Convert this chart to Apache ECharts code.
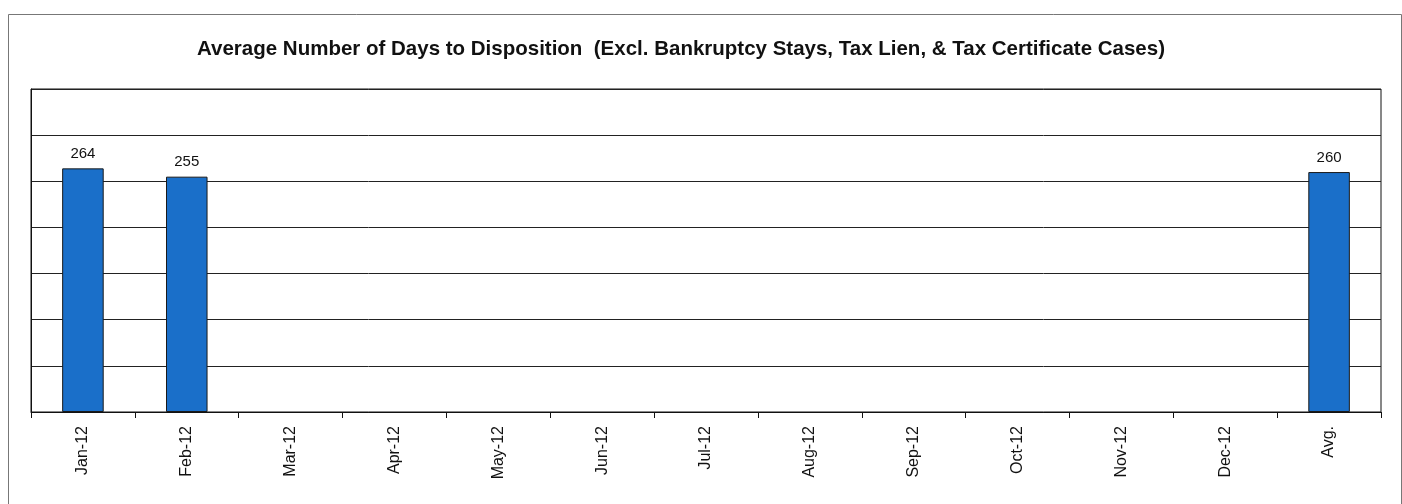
<!DOCTYPE html>
<html><head><meta charset="utf-8">
<script src="https://cdn.jsdelivr.net/npm/echarts@6/dist/echarts.min.js"></script>
<style>html,body{margin:0;padding:0;background:#fff}#c{width:1402px;height:504px}</style>
</head><body><div id="c"></div>
<script>
const categories = ['Jan-12','Feb-12','Mar-12','Apr-12','May-12','Jun-12','Jul-12','Aug-12','Sep-12','Oct-12','Nov-12','Dec-12','Avg.'];
const values = [264, 255, null, null, null, null, null, null, null, null, null, null, 260];
const titleText = 'Average Number of Days to Disposition  (Excl. Bankruptcy Stays, Tax Lien, & Tax Certificate Cases)';

const chart = echarts.init(document.getElementById('c'));
chart.setOption({
  animation: false,
  backgroundColor: '#fff',
  title: {
    text: titleText, left: 192, top: 34,
    textStyle: {fontFamily: 'Liberation Sans, Arial', fontSize: 20.5, fontWeight: 'bold', color: '#111'}
  },
  graphic: [{
    type: 'rect', left: 6, top: 12, shape: {width: 1393, height: 500},
    style: {fill: 'none', stroke: '#777', lineWidth: 1}, silent: true, z: -1
  }],
  grid: {left: 31, right: 21, top: 89, bottom: 92, show: true, borderColor: '#111', borderWidth: 1},
  xAxis: {
    type: 'category', data: categories,
    axisLine: {lineStyle: {color: '#111'}},
    axisTick: {show: true, length: 6, lineStyle: {color: '#111'}},
    axisLabel: {rotate: 90, margin: 14, fontFamily: 'Liberation Sans, Arial', fontSize: 16, color: '#111'}
  },
  yAxis: {
    type: 'value', min: 0, max: 350, interval: 50,
    axisLabel: {show: false}, axisTick: {show: false},
    axisLine: {show: true, lineStyle: {color: '#111'}},
    splitLine: {lineStyle: {color: '#222', width: 1}}
  },
  series: [{
    type: 'bar', data: values, barWidth: '40%',
    itemStyle: {color: '#1a6fc9', borderColor: '#1a1a1a', borderWidth: 1},
    label: {show: true, position: 'top', distance: 7, fontFamily: 'Liberation Sans, Arial', fontSize: 15, color: '#111'}
  }]
});
</script></body></html>
